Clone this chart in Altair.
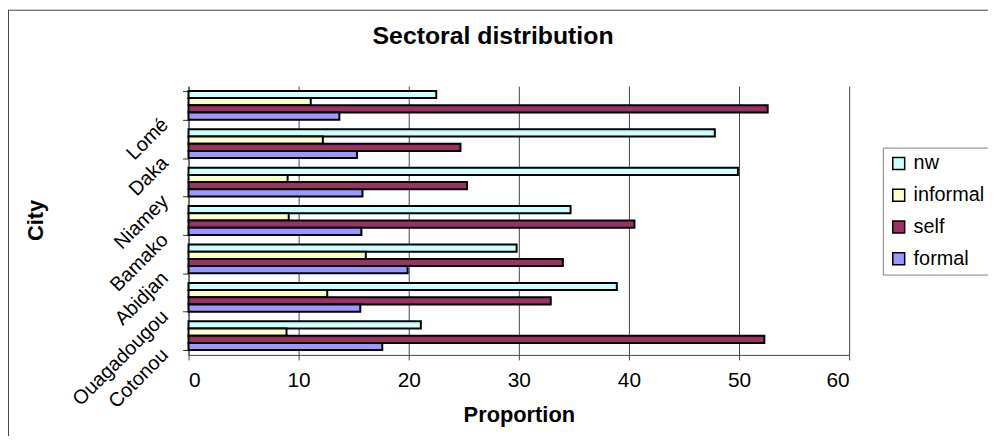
import altair as alt
import pandas as pd

cities = ["Lomé", "Daka", "Niamey", "Bamako", "Abidjan", "Ouagadougou", "Cotonou"]
series = ["nw", "informal", "self", "formal"]
colors = ["#CCFFFF", "#FFFFCC", "#993366", "#9999FF"]

nw = [22.5, 47.8, 49.9, 34.7, 29.8, 38.9, 21.1]
informal = [11.1, 12.2, 9.0, 9.1, 16.1, 12.6, 8.9]
self_emp = [52.6, 24.7, 25.3, 40.5, 34.0, 32.9, 52.3]
formal = [13.7, 15.3, 15.8, 15.7, 19.9, 15.6, 17.6]

rows = []
for name, vals in zip(series, [nw, informal, self_emp, formal]):
    for c, v in zip(cities, vals):
        rows.append({"City": c, "Sector": name, "Proportion": v})
df = pd.DataFrame(rows)

FONT = "Liberation Sans"
W, H = 666, 271

bars = alt.Chart(df).mark_bar(stroke="black", strokeWidth=2).encode(
    x=alt.X("Proportion:Q",
            scale=alt.Scale(domain=[0, 60], nice=False),
            axis=alt.Axis(values=[0, 10, 20, 30, 40, 50, 60], title="Proportion",
                          grid=True, gridColor="#444444", gridWidth=1,
                          tickColor="#444444", tickSize=5, domainColor="#444444",
                          labelFontSize=21, labelPadding=10, labelColor="black",
                          titleFontSize=22, titlePadding=14, titleColor="black")),
    y=alt.Y("City:N", sort=cities,
            scale=alt.Scale(paddingInner=0.25, paddingOuter=0.125),
            axis=alt.Axis(title="City", tickBand="extent", tickSize=6,
                          tickColor="#333333", domainColor="#444444",
                          labelAngle=-45, labelAlign="right", labelBaseline="middle",
                          labelOffset=16, labelPadding=18, labelFontSize=20,
                          labelColor="black",
                          titleFontSize=22, titleColor="black", titleAngle=270,
                          titleX=-154, titleY=135, titleAlign="center",
                          titleBaseline="middle")),
    yOffset=alt.YOffset("Sector:N", sort=series,
                        scale=alt.Scale(paddingInner=0, paddingOuter=0)),
    color=alt.Color("Sector:N", sort=series,
                    scale=alt.Scale(domain=series, range=colors),
                    legend=alt.Legend(title=None, orient="none", legendX=700, legendY=62,
                                      strokeColor="#808080", fillColor="white",
                                      padding=6, symbolType="square", symbolSize=144,
                                      symbolStrokeColor="black", symbolStrokeWidth=1.5,
                                      labelFontSize=20, labelColor="black",
                                      rowPadding=12, labelOffset=5)),
)

frame_df = pd.DataFrame({"k": [0]})
left_border = alt.Chart(frame_df).mark_rule(color="#444444", strokeWidth=1).encode(
    x=alt.value(-181.5), y=alt.value(-77), y2=alt.value(H + 90))
top_border = alt.Chart(frame_df).mark_rule(color="#444444", strokeWidth=1).encode(
    x=alt.value(-181.5), x2=alt.value(W + 140), y=alt.value(-76.5))

chart = alt.layer(bars, left_border, top_border).properties(
    width=W, height=H,
    autosize=alt.AutoSizeParams(type="none"),
    padding={"left": 182, "top": 77, "right": 140, "bottom": 80},
    title=alt.TitleParams("Sectoral distribution", fontSize=25, font=FONT,
                          fontWeight="bold", color="black", anchor="middle",
                          baseline="top", dx=-26, dy=40, offset=0),
).configure(font=FONT).configure_view(stroke=None).configure_axis(
    labelFont=FONT, titleFont=FONT, titleFontWeight="bold"
).configure_legend(labelFont=FONT)

chart.save("out.html", embed_options={"renderer": "svg", "actions": False})
